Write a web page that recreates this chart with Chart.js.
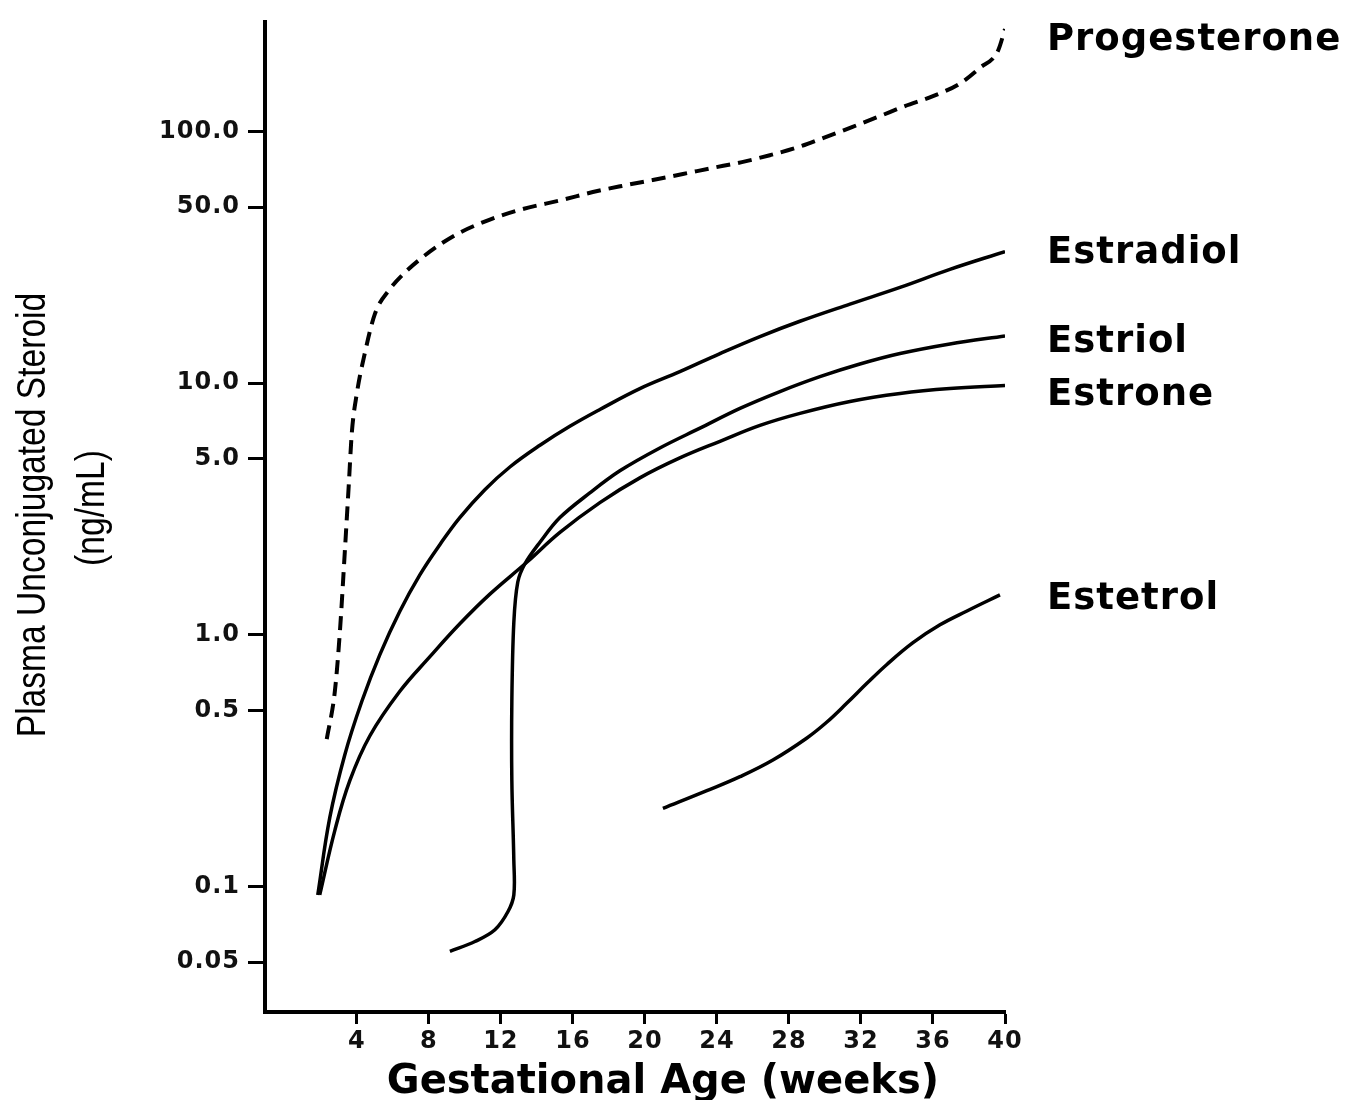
<!DOCTYPE html>
<html>
<head>
<meta charset="utf-8">
<script src="https://cdn.jsdelivr.net/npm/chart.js@4.4.1/dist/chart.umd.min.js"></script>
<style>
  html, body { margin: 0; padding: 0; background: #fff; }
</style>
</head>
<body>
<canvas id="steroidChart" width="1353" height="1100"></canvas>
<script>
// gestational age (weeks) vs plasma unconjugated steroid (ng/mL)
let progesteroneWeeks = [2.33, 2.78, 3.06, 3.33, 3.56, 3.72, 4.0, 4.44, 5.0, 5.83, 6.67, 7.5, 8.61, 9.72, 11.39, 13.06,
  15.44, 17.11, 18.72, 20.44, 22.11, 23.72, 25.39, 26.94, 28.5, 30, 31.5, 33.06, 34.44, 36, 37.5, 38.61, 39.61, 40];
let progesteroneLevels = [0.385, 0.596, 1.03, 2.12, 4.02, 6.32, 9.09, 13.1, 18.8, 23.6, 27.5, 31.0, 35.5, 39.6, 44.6, 48.8,
  53.5, 57.4, 60.7, 64.1, 67.7, 71.5, 75.5, 80.4, 86.5, 94.7, 104, 115, 126, 138, 155, 179, 209, 255];

let estradiolWeeks = [1.83, 2.5, 3.33, 4.28, 5.28, 6.39, 7.5, 8.61, 9.72, 11.11, 12.5, 14.17, 15.83, 17.5, 19.72,
  21.94, 24.17, 26.39, 28.61, 31.39, 34.17, 36.94, 40];
let estradiolLevels = [0.0925, 0.188, 0.333, 0.544, 0.834, 1.24, 1.73, 2.28, 2.92, 3.77, 4.64, 5.66, 6.73, 7.85, 9.5,
  11.1, 13.1, 15.3, 17.6, 20.6, 24.0, 28.3, 33.3];

let estriolWeeks = [9.17, 10.56, 11.67, 12.39, 12.72, 12.72, 12.61, 12.61, 12.72, 12.94, 13.33, 14.17, 15.28, 16.94,
  18.61, 20.83, 23.06, 25.28, 27.5, 29.72, 31.94, 34.17, 36.94, 40];
let estriolLevels = [0.0552, 0.0604, 0.0673, 0.0793, 0.0925, 0.127, 0.263, 0.544, 1.12, 1.62, 1.91, 2.33, 2.92, 3.66,
  4.48, 5.52, 6.62, 7.93, 9.25, 10.6, 11.9, 13.1, 14.3, 15.4];

let estroneWeeks = [1.94, 2.78, 3.61, 4.72, 6.39, 8.06, 9.72, 11.39, 13.44, 15.28, 17.5, 19.72, 21.94, 24.17, 26.39,
  28.61, 31.39, 34.17, 36.94, 40];
let estroneLevels = [0.0925, 0.167, 0.263, 0.396, 0.596, 0.818, 1.105, 1.45, 1.94, 2.55, 3.35, 4.20, 5.04, 5.87, 6.79,
  7.58, 8.45, 9.09, 9.51, 9.78];

let estetrolWeeks = [21, 23.44, 25.28, 27.11, 29, 30.11, 31.22, 32.33, 33.44, 34.89, 36.39, 37.89, 39.72];
let estetrolLevels = [0.204, 0.240, 0.273, 0.318, 0.389, 0.450, 0.535, 0.641, 0.762, 0.930, 1.095, 1.243, 1.44];

let seriesNames = ['Progesterone', 'Estradiol', 'Estriol', 'Estrone', 'Estetrol'];
let labelLevels = [239, 34, 15, 9.25, 1.43];

let xTickValues = [4, 8, 12, 16, 20, 24, 28, 32, 36, 40];
let yTickValues = [0.05, 0.1, 0.5, 1, 5, 10, 50, 100];
let yTickLabels = ['0.05', '0.1', '0.5', '1.0', '5.0', '10.0', '50.0', '100.0'];

function toPoints(weeks, levels) {
  return weeks.map((w, i) => ({ x: w, y: levels[i] }));
}

function curve(name, weeks, levels, opts) {
  return Object.assign({
    label: name,
    data: toPoints(weeks, levels),
    borderColor: '#000',
    borderWidth: 3.5,
    pointRadius: 0,
    tension: 0.4,
    fill: false
  }, opts || {});
}

let textPlugin = {
  id: 'steroidText',
  beforeDraw(chart) {
    chart.ctx.letterSpacing = '1px';
  },
  afterDraw(chart) {
    let ctx = chart.ctx;
    let xs = chart.scales.x, ys = chart.scales.y;
    ctx.save();
    ctx.fillStyle = '#000';

    // series names at the right
    ctx.letterSpacing = '1px';
    ctx.font = 'bold 37px "DejaVu Sans"';
    ctx.textAlign = 'left';
    ctx.textBaseline = 'alphabetic';
    seriesNames.forEach((name, i) => {
      ctx.fillText(name, chart.chartArea.right + 42, ys.getPixelForValue(labelLevels[i]) + 13.5);
    });

    // x axis title
    ctx.letterSpacing = '0px';
    ctx.font = 'bold 40px "DejaVu Sans"';
    ctx.textAlign = 'center';
    ctx.fillText('Gestational Age (weeks)', xs.getPixelForValue(21), 1093);

    // y axis title, condensed
    ctx.font = '40px "Liberation Sans"';
    [['Plasma Unconjugated Steroid', 45, 515], ['(ng/mL)', 104, 508]].forEach(t => {
      ctx.save();
      ctx.translate(t[1], t[2]);
      ctx.rotate(-Math.PI / 2);
      ctx.scale(0.84, 1);
      ctx.fillText(t[0], 0, 0);
      ctx.restore();
    });
    ctx.restore();
  }
};

let steroidChart = new Chart(document.getElementById('steroidChart'), {
  type: 'line',
  data: {
    datasets: [
      curve(seriesNames[0], progesteroneWeeks, progesteroneLevels,
        { borderDash: [14, 8], borderWidth: 4, cubicInterpolationMode: 'monotone' }),
      curve(seriesNames[1], estradiolWeeks, estradiolLevels),
      curve(seriesNames[2], estriolWeeks, estriolLevels, { tension: 0.35 }),
      curve(seriesNames[3], estroneWeeks, estroneLevels),
      curve(seriesNames[4], estetrolWeeks, estetrolLevels)
    ]
  },
  options: {
    responsive: false,
    animation: false,
    devicePixelRatio: 1,
    layout: { padding: { left: 0, top: 16, right: 348, bottom: 0 } },
    plugins: { legend: { display: false }, tooltip: { enabled: false } },
    scales: {
      x: {
        type: 'linear',
        min: -1.1,
        max: 40,
        afterBuildTicks: s => { s.ticks = xTickValues.map(v => ({ value: v })); },
        afterFit: s => { s.height = 88; },
        grid: { drawOnChartArea: false, drawTicks: true, tickLength: 12, tickWidth: 3, tickColor: '#000' },
        border: { display: true, color: '#000', width: 4 },
        ticks: { color: '#111', font: { family: 'DejaVu Sans', size: 24, weight: 'bold' }, padding: 3, maxRotation: 0 }
      },
      y: {
        type: 'logarithmic',
        min: 0.0317,
        max: 271,
        afterBuildTicks: s => { s.ticks = yTickValues.map(v => ({ value: v })); },
        afterFit: s => { s.width = 265; },
        grid: { drawOnChartArea: false, drawTicks: true, tickLength: 17, tickWidth: 3, tickColor: '#000' },
        border: { display: true, color: '#000', width: 4 },
        ticks: {
          color: '#111',
          font: { family: 'DejaVu Sans', size: 24, weight: 'bold' },
          padding: 8,
          callback: (value, index) => yTickLabels[index]
        }
      }
    }
  },
  plugins: [textPlugin]
});
</script>
</body>
</html>
